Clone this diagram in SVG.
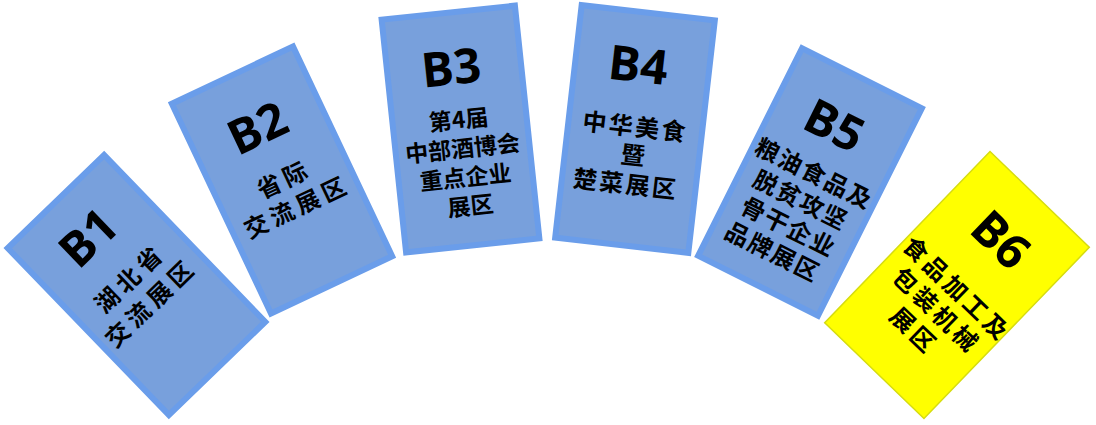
<svg xmlns="http://www.w3.org/2000/svg" width="1096" height="425" viewBox="0 0 1096 425">
<style>
.blue{fill:#78A0DC;stroke:#6A9DEA;stroke-width:6}
.yellow{fill:#FFFF00;stroke:#D6DC10;stroke-width:1.5}
.big{font-family:"Open Sans","Liberation Sans",sans-serif;font-weight:bold;font-size:48px;fill:#000;text-anchor:middle;dominant-baseline:central}
.cn{font-family:"Noto Sans CJK SC","Noto Sans",sans-serif;font-weight:bold;font-size:24px;fill:#000;text-anchor:middle;dominant-baseline:central}
</style>
<rect width="1096" height="425" fill="#fff"/>
<g id="connectors"/>
<g id="B2" transform="translate(282,180) rotate(-25.3)">
<rect class="blue" x="-67" y="-116" width="134" height="232"/>
<text class="big" x="0" y="-59">B2</text>
<text class="cn" x="2" y="-1.5" letter-spacing="4.5">省际</text>
<text class="cn" x="2" y="29" letter-spacing="4.5">交流展区</text>
</g>
<g id="B1" transform="translate(136.5,285) rotate(-44)">
<rect class="blue" x="-67" y="-116" width="134" height="232"/>
<text class="big" x="-2" y="-69">B1</text>
<text class="cn" x="0" y="-11" letter-spacing="5">湖北省</text>
<text class="cn" x="-2" y="21" letter-spacing="5">交流展区</text>
</g>
<g id="B3" transform="translate(460.5,129) rotate(-6)">
<rect class="blue" x="-67" y="-117" width="134" height="234"/>
<text class="big" x="-3" y="-63.5">B3</text>
<text class="cn" x="-1" y="-11" style="font-size:23px">第4届</text>
<text class="cn" x="0" y="18" style="font-size:23px">中部酒博会</text>
<text class="cn" x="0" y="47" style="font-size:23px">重点企业</text>
<text class="cn" x="2" y="76" style="font-size:23px">展区</text>
</g>
<g id="B4" transform="translate(635,129) rotate(6.5)">
<rect class="blue" x="-67" y="-117" width="134" height="234"/>
<text class="big" x="-4" y="-65.5">B4</text>
<text class="cn" x="0" y="-4" letter-spacing="2.4">中华美食</text>
<text class="cn" x="1" y="24.5">暨</text>
<text class="cn" x="-3" y="54" letter-spacing="2.4">楚菜展区</text>
</g>
<g id="B5" transform="translate(810,182) rotate(26.6)">
<rect class="blue" x="-67" y="-116" width="134" height="232"/>
<text class="big" x="-3.5" y="-63">B5</text>
<text class="cn" x="0" y="-11" letter-spacing="1.7">粮油食品及</text>
<text class="cn" x="0" y="18.5" letter-spacing="1.7">脱贫攻坚</text>
<text class="cn" x="1" y="48" letter-spacing="1.7">骨干企业</text>
<text class="cn" x="-2" y="77.5" letter-spacing="1.7">品牌展区</text>
</g>
<g id="B6" transform="translate(957,285) rotate(44)">
<rect class="yellow" x="-69" y="-119" width="138" height="238"/>
<text class="big" x="0" y="-64.5">B6</text>
<text class="cn" x="3" y="1.5" letter-spacing="3.7">食品加工及</text>
<text class="cn" x="3" y="31" letter-spacing="3.7">包装机械</text>
<text class="cn" x="1" y="61" letter-spacing="3.7">展区</text>
</g>
</svg>
